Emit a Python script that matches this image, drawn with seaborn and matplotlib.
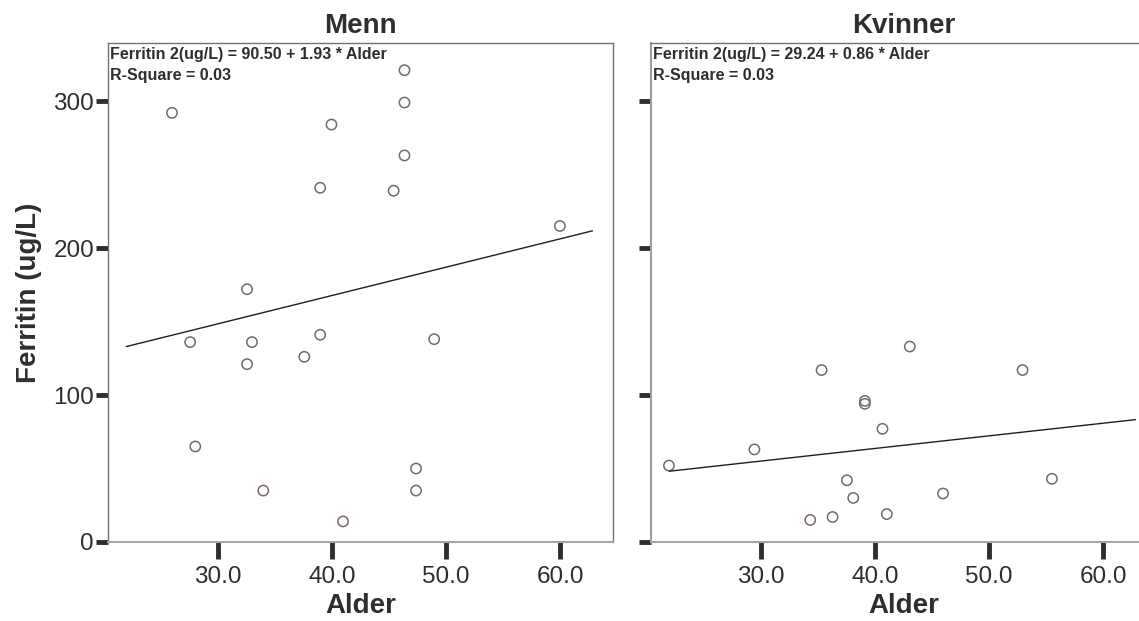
import matplotlib
matplotlib.use("Agg")
import matplotlib.pyplot as plt
import seaborn as sns
import numpy as np
import pandas as pd

# ---- data ----
menn_alder = [46.35, 46.35, 26.0, 39.96, 46.35, 38.97, 45.4, 59.95, 32.57, 38.97,
              48.95, 27.59, 33.0, 32.57, 37.58, 28.04, 47.36, 33.99, 47.36, 40.97]
menn_ferritin = [321, 299, 292, 284, 263, 241, 239, 215, 172, 141,
                 138, 136, 136, 121, 126, 65, 50, 35, 35, 14]

kvinner_alder = [21.97, 29.45, 35.33, 43.05, 52.92, 39.12, 39.12, 40.66, 37.55,
                 55.49, 38.1, 45.96, 34.34, 36.29, 41.04]
kvinner_ferritin = [52, 63, 117, 133, 117, 96, 94, 77, 42, 43, 30, 33, 15, 17, 19]

# regression coefficients (intercept, slope) shown in the panels
menn_coef = [90.50, 1.93]
kvinner_coef = [29.24, 0.86]
r_square = ["0.03", "0.03"]
line_range = [22.0, 62.8]

panel_titles = ["Menn", "Kvinner"]
x_ticks = [30.0, 40.0, 50.0, 60.0]
y_ticks = [0, 100, 200, 300]

sns.set_style("white")
plt.rcParams["font.family"] = ["Liberation Sans", "DejaVu Sans"]

fig = plt.figure(figsize=(11.39, 6.21), dpi=100)
ax1 = fig.add_axes([108 / 1139, 79 / 621, 505 / 1139, 499 / 621])
ax2 = fig.add_axes([651 / 1139, 79 / 621, 505 / 1139, 499 / 621])

text_col = "#2e2e2e"
frame_col = "#7a6e6e"
marker_col = "#77696b"

panels = [
    (ax1, menn_alder, menn_ferritin, menn_coef, r_square[0], panel_titles[0]),
    (ax2, kvinner_alder, kvinner_ferritin, kvinner_coef, r_square[1], panel_titles[1]),
]

for i, (ax, xs, ys, coef, r2, title) in enumerate(panels):
    df = pd.DataFrame({"Alder": xs, "Ferritin": ys})
    sns.scatterplot(data=df, x="Alder", y="Ferritin", ax=ax, marker="o",
                    s=55, facecolor="none", edgecolor=marker_col, linewidth=1.1)
    lx = np.array(line_range)
    ldf = pd.DataFrame({"Alder": lx, "Ferritin": coef[0] + coef[1] * lx})
    sns.lineplot(data=ldf, x="Alder", y="Ferritin", ax=ax, color="#1e1e1e",
                 linewidth=1.0)

    ax.set_xlim(20.4, 64.6)
    ax.set_ylim(0, 339.5)
    ax.set_xticks(x_ticks)
    ax.set_xticklabels([f"{v:.1f}" for v in x_ticks])
    ax.set_yticks(y_ticks)
    if i == 0:
        ax.set_yticklabels([str(v) for v in y_ticks])
        ax.set_ylabel("Ferritin (ug/L)", fontsize=20, fontweight="bold",
                      color=text_col, labelpad=8)
    else:
        ax.set_yticklabels([])
        ax.set_ylabel("")
    ax.set_xlabel("Alder", fontsize=20, fontweight="bold", color=text_col,
                  labelpad=4)
    ax.set_title(title, fontsize=20, fontweight="bold", color=text_col, pad=7)

    ax.tick_params(axis="x", direction="out", length=12, width=3.5,
                   color="#2e2e2e", labelsize=17.5, labelcolor=text_col, pad=5,
                   bottom=True)
    ax.tick_params(axis="y", direction="out", length=9, width=3.5,
                   color="#2e2e2e", labelsize=17.5, labelcolor=text_col, pad=1,
                   left=True)

    for name, sp in ax.spines.items():
        sp.set_visible(True)
        sp.set_linewidth(1.0)
        sp.set_color(frame_col)
    ax.spines["bottom"].set_color("#a8a4a4")
    ax.spines["bottom"].set_linewidth(1.5)
    if i == 1:
        ax.spines["left"].set_color("#a09a9a")
        ax.spines["left"].set_linewidth(1.5)

    sign = "+"
    ax.text(0.003, 0.992,
            f"Ferritin 2(ug/L) = {coef[0]:.2f} {sign} {coef[1]:.2f} * Alder\nR-Square = {r2}",
            transform=ax.transAxes, ha="left", va="top", fontsize=11.5,
            fontweight="bold", color=text_col, linespacing=1.5)

fig.savefig("out.png", dpi=100)
